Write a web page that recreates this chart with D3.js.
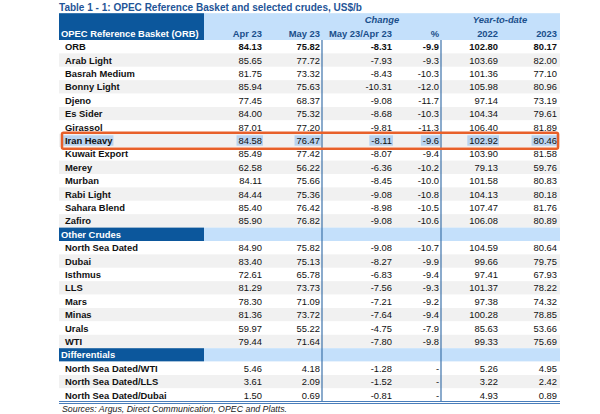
<!DOCTYPE html>
<html>
<head>
<meta charset="utf-8">
<script src="https://cdn.jsdelivr.net/npm/d3@7"></script>
<style>
  body { margin: 0; background: #fff; }
  svg { font-family: "Liberation Sans", Arial, sans-serif; }
</style>
</head>
<body>
<svg id="chart" width="600" height="414"></svg>
<script>
// rows of the table: section headers have type "section"
const names = [
  "ORB", "Arab Light", "Basrah Medium", "Bonny Light", "Djeno", "Es Sider", "Girassol",
  "Iran Heavy", "Kuwait Export", "Merey", "Murban", "Rabi Light", "Sahara Blend", "Zafiro",
  "Other Crudes",
  "North Sea Dated", "Dubai", "Isthmus", "LLS", "Mars", "Minas", "Urals", "WTI",
  "Differentials",
  "North Sea Dated/WTI", "North Sea Dated/LLS", "North Sea Dated/Dubai",
];
const sections = ["Other Crudes", "Differentials"];
const apr23 = [84.13, 85.65, 81.75, 85.94, 77.45, 84.00, 87.01, 84.58, 85.49, 62.58, 84.11, 84.44, 85.40, 85.90,
  null, 84.90, 83.40, 72.61, 81.29, 78.30, 81.36, 59.97, 79.44, null, 5.46, 3.61, 1.50];
const may23 = [75.82, 77.72, 73.32, 75.63, 68.37, 75.32, 77.20, 76.47, 77.42, 56.22, 75.66, 75.36, 76.42, 76.82,
  null, 75.82, 75.13, 65.78, 73.73, 71.09, 73.72, 55.22, 71.64, null, 4.18, 2.09, 0.69];
const change = [-8.31, -7.93, -8.43, -10.31, -9.08, -8.68, -9.81, -8.11, -8.07, -6.36, -8.45, -9.08, -8.98, -9.08,
  null, -9.08, -8.27, -6.83, -7.56, -7.21, -7.64, -4.75, -7.80, null, -1.28, -1.52, -0.81];
const pct = [-9.9, -9.3, -10.3, -12.0, -11.7, -10.3, -11.3, -9.6, -9.4, -10.2, -10.0, -10.8, -10.5, -10.6,
  null, -10.7, -9.9, -9.4, -9.3, -9.2, -9.4, -7.9, -9.8, null, "-", "-", "-"];
const ytd2022 = [102.80, 103.69, 101.36, 105.98, 97.14, 104.34, 106.40, 102.92, 103.90, 79.13, 101.58, 104.13, 107.47, 106.08,
  null, 104.59, 99.66, 97.41, 101.37, 97.38, 100.28, 85.63, 99.33, null, 5.26, 3.22, 4.93];
const ytd2023 = [80.17, 82.00, 77.10, 80.96, 73.19, 79.61, 81.89, 80.46, 81.58, 59.76, 80.83, 80.18, 81.76, 80.89,
  null, 80.64, 79.75, 67.93, 78.22, 74.32, 78.85, 53.66, 75.69, null, 4.95, 2.42, 0.89];
const headers = ["Apr 23", "May 23", "May 23/Apr 23", "%", "2022", "2023"];
const groupHeaders = ["Change", "Year-to-date"];
const boldRow = "ORB";
const highlightRow = "Iran Heavy";

const svg = d3.select("#chart");
const darkBlue = "#0c579c";
const lightBlue = "#c4e0fb";
const textBlue = "#1a4f8b";
const lineBlue = "#3d72aa";
const stripe = "#f1f1f1";
const fs = 9.4;

const locale = d3.formatLocale({ decimal: ".", thousands: ",", grouping: [3], currency: ["$", ""], minus: "-" });

const x0 = 59, x1 = 560, nameRight = 204;
const rowKeys = ["h1", "h2", ...names];
const y = d3.scaleBand().domain(rowKeys).range([13.2, 401.8]);
const rh = y.bandwidth();

const cols = [
  { key: "apr", vals: apr23, fmt: locale.format(".2f") },
  { key: "may", vals: may23, fmt: locale.format(".2f") },
  { key: "chg", vals: change, fmt: locale.format(".2f") },
  { key: "pct", vals: pct, fmt: locale.format(".1f") },
  { key: "y22", vals: ytd2022, fmt: locale.format(".2f") },
  { key: "y23", vals: ytd2023, fmt: locale.format(".2f") },
];
const colRight = d3.scaleOrdinal().domain(cols.map(c => c.key)).range([262, 320, 392, 439, 498, 557]);

// title (source font is a bit narrower, squeeze to its width)
svg.append("text").attr("x", x0).attr("y", 11)
  .attr("fill", "#1f5597").attr("font-weight", "bold").attr("font-size", 10.2)
  .attr("textLength", 303).attr("lengthAdjust", "spacingAndGlyphs")
  .text("Table 1 - 1: OPEC Reference Basket and selected crudes, US$/b");

// header block
svg.append("rect").attr("x", x0).attr("y", y("h1")).attr("width", nameRight - x0).attr("height", rh * 2).attr("fill", darkBlue);
svg.append("rect").attr("x", nameRight).attr("y", y("h1")).attr("width", x1 - nameRight).attr("height", rh * 2).attr("fill", lightBlue);
svg.append("text").attr("x", x0 + 2).attr("y", y("h2") + rh / 2 + 3.5)
  .attr("fill", "#fff").attr("font-weight", "bold").attr("font-size", fs)
  .text("OPEC Reference Basket (ORB)");
svg.selectAll("text.hdr").data(headers).join("text").attr("class", "hdr")
  .attr("x", (d, i) => colRight(cols[i].key)).attr("y", y("h2") + rh / 2 + 3.5)
  .attr("text-anchor", "end").attr("fill", textBlue).attr("font-weight", "bold").attr("font-size", fs)
  .text(d => d);
svg.selectAll("text.grp").data(groupHeaders).join("text").attr("class", "grp")
  .attr("x", (d, i) => i === 0 ? 382 : 500).attr("y", y("h1") + rh / 2 + 3.5)
  .attr("text-anchor", "middle").attr("fill", textBlue).attr("font-weight", "bold")
  .attr("font-style", "italic").attr("font-size", fs)
  .text(d => d);

// body rows
const rows = names.map((n, i) => ({ name: n, i, section: sections.includes(n) }));
let stripeIdx = 0;
rows.forEach(r => {
  if (r.section) { stripeIdx = 0; r.fill = null; return; }
  r.fill = stripeIdx % 2 === 1 ? stripe : "#fff";
  stripeIdx++;
});

const g = svg.append("g");
rows.forEach(r => {
  const yy = y(r.name);
  if (r.section) {
    g.append("rect").attr("x", x0).attr("y", yy).attr("width", nameRight - x0).attr("height", rh).attr("fill", darkBlue);
    g.append("rect").attr("x", nameRight).attr("y", yy).attr("width", x1 - nameRight).attr("height", rh).attr("fill", lightBlue);
    g.append("text").attr("x", x0 + 2).attr("y", yy + rh / 2 + 3.5)
      .attr("fill", "#fff").attr("font-weight", "bold").attr("font-size", fs).text(r.name);
    return;
  }
  g.append("rect").attr("x", x0).attr("y", yy).attr("width", x1 - x0).attr("height", rh).attr("fill", r.fill);
  const hl = r.name === highlightRow;
  const cells = [{ t: r.name, x: 65, anchor: "start", bold: true }].concat(cols.map(c => {
    const v = c.vals[r.i];
    return { t: typeof v === "number" ? c.fmt(v) : v, x: colRight(c.key), anchor: "end", bold: r.name === boldRow };
  }));
  cells.forEach(c => {
    const t = g.append("text").attr("x", c.x).attr("y", yy + rh / 2 + 3.5)
      .attr("text-anchor", c.anchor).attr("font-size", fs).attr("fill", "#111")
      .attr("font-weight", c.bold ? "bold" : "normal").text(c.t);
    if (hl) {
      const w = t.node().getComputedTextLength();
      const left = c.anchor === "end" ? c.x - w : c.x;
      g.insert("rect", () => t.node()).attr("x", left - 2).attr("y", yy + 1.5)
        .attr("width", w + 3).attr("height", rh - 3).attr("fill", "#b9d3ef");
    }
  });
});

// vertical separators
[322, 441].forEach(vx => {
  svg.append("line").attr("x1", vx).attr("x2", vx).attr("y1", y(names[0])).attr("y2", 401.8)
    .attr("stroke", lineBlue).attr("stroke-width", 1.2);
});

// bottom double rule
[401.5, 403.5].forEach(ly => {
  svg.append("line").attr("x1", x0).attr("x2", x1).attr("y1", ly).attr("y2", ly)
    .attr("stroke", "#4a7ebb").attr("stroke-width", 1.2);
});

// highlight outline
const hy = y(highlightRow);
svg.append("rect").attr("x", 62).attr("y", hy - 1).attr("width", 496).attr("height", rh + 2.5)
  .attr("fill", "none").attr("stroke", "#e8602a").attr("stroke-width", 2.5).attr("rx", 1.5);

// sources
svg.append("text").attr("x", 62).attr("y", 412).attr("font-size", 8.8).attr("font-style", "italic")
  .attr("fill", "#222").text("Sources:  Argus, Direct Communication, OPEC and Platts.");
</script>
</body>
</html>
